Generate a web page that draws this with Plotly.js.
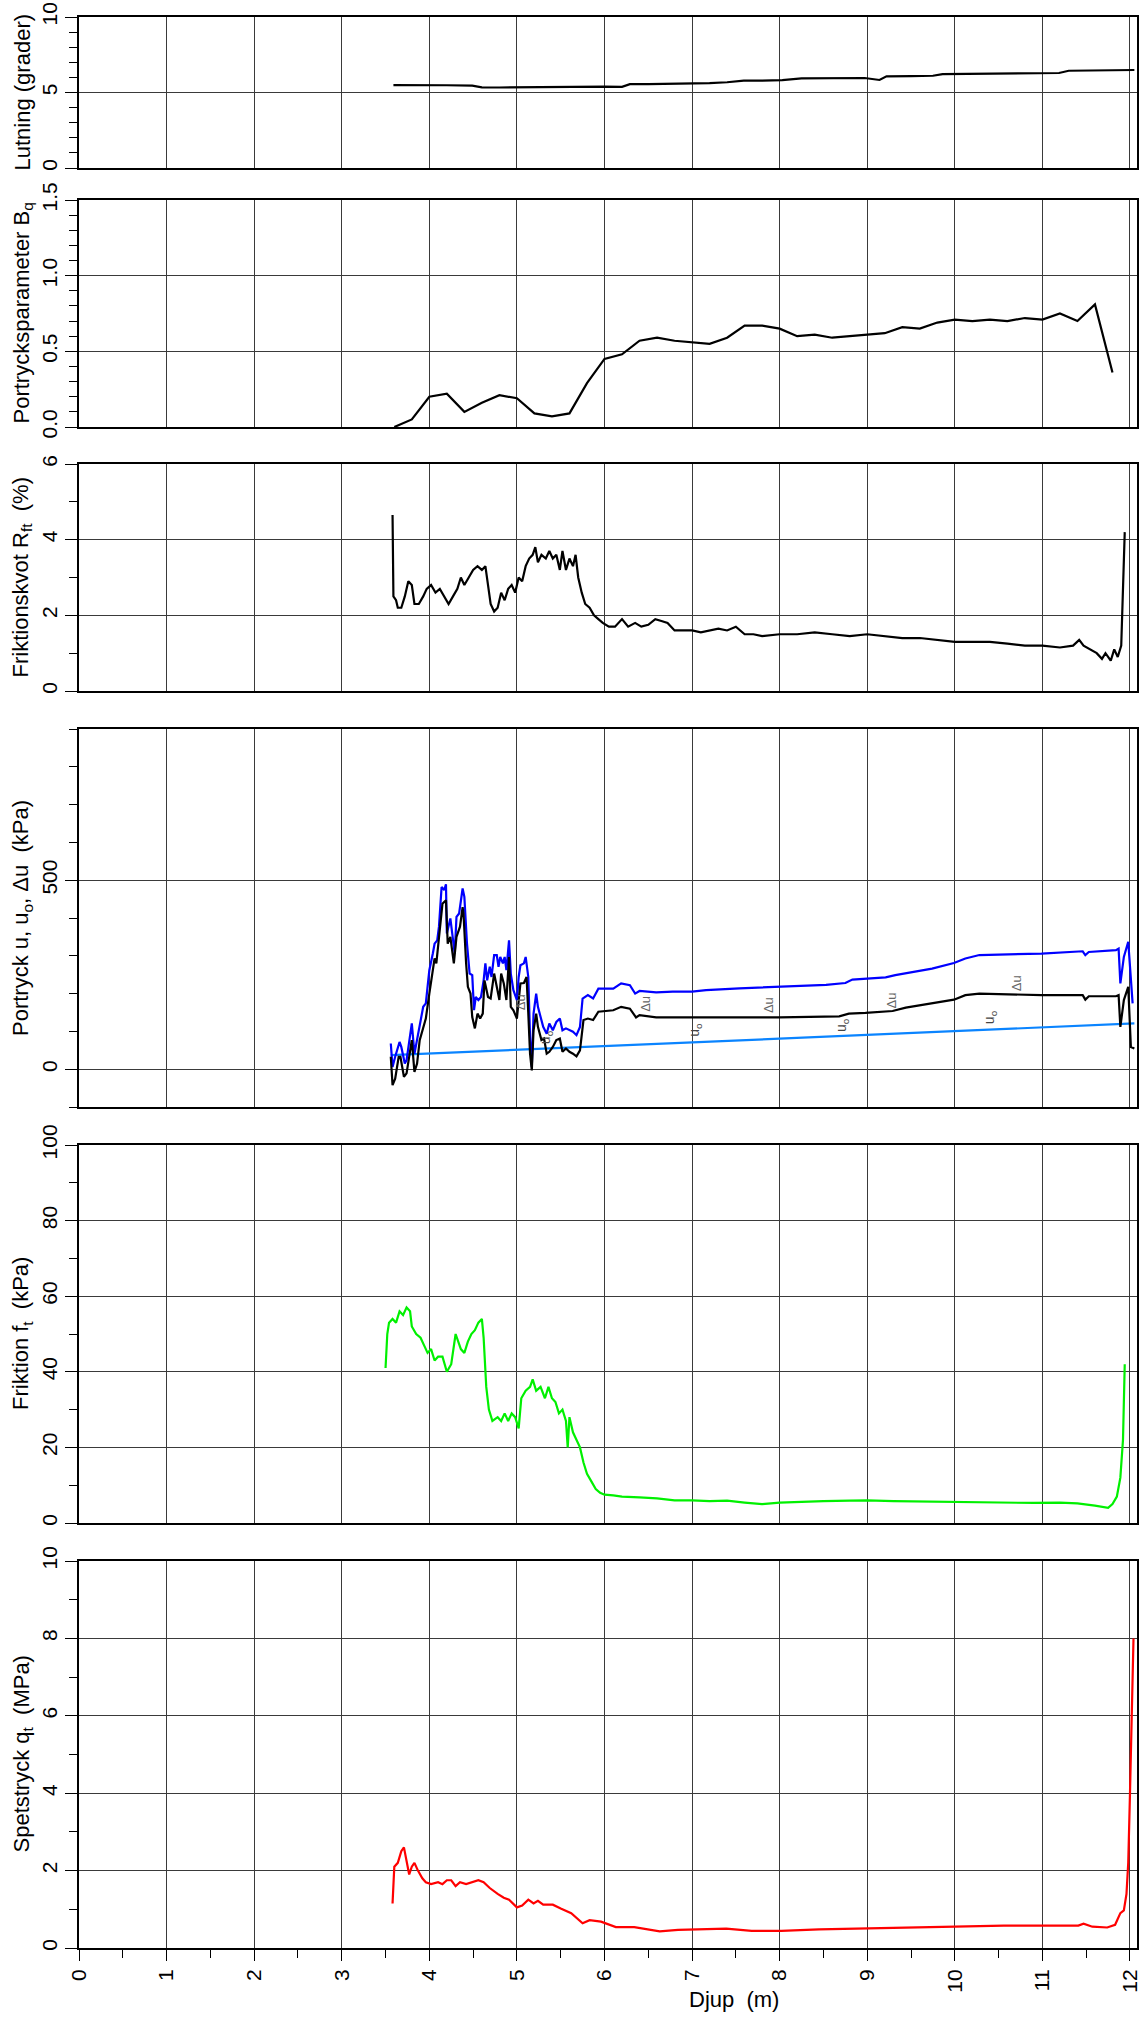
<!DOCTYPE html>
<html>
<head>
<meta charset="utf-8">
<script src="https://cdn.plot.ly/plotly-3.0.1.min.js"></script>
<style>html,body{margin:0;padding:0;background:#fff}</style>
</head>
<body>
<div id="chart" style="width:1140px;height:2020px"></div>
<script>
// ---------- DATA ----------
const xTicks = [0,1,2,3,4,5,6,7,8,9,10,11,12];

const lutDepth = [3.59,3.8,4.0,4.2,4.49,4.6,4.8,5.0,5.3,5.54,5.8,6.0,6.2,6.29,6.5,6.8,7.0,7.2,7.4,7.59,7.8,8.03,8.25,8.5,8.75,8.97,9.14,9.22,9.5,9.75,9.86,10.1,10.4,10.7,11.0,11.19,11.3,11.6,11.8,12.05];
const lutVal   = [5.49,5.5,5.49,5.48,5.45,5.34,5.33,5.34,5.35,5.4,5.4,5.39,5.37,5.55,5.56,5.57,5.58,5.62,5.68,5.78,5.79,5.82,5.93,5.94,5.95,5.96,5.83,6.07,6.09,6.11,6.22,6.23,6.25,6.27,6.28,6.29,6.44,6.46,6.47,6.49];

const bqDepth = [3.6,3.8,4.0,4.2,4.4,4.6,4.8,5.0,5.2,5.4,5.6,5.8,6.0,6.2,6.4,6.6,6.8,7.0,7.2,7.4,7.6,7.8,8.0,8.2,8.4,8.6,8.8,9.0,9.2,9.4,9.6,9.8,10.0,10.2,10.4,10.6,10.8,11.0,11.2,11.4,11.6,11.8];
const bqVal   = [0.0,0.05,0.2,0.22,0.1,0.16,0.21,0.19,0.09,0.07,0.09,0.29,0.45,0.48,0.57,0.59,0.57,0.56,0.55,0.59,0.67,0.67,0.65,0.6,0.61,0.59,0.6,0.61,0.62,0.66,0.65,0.69,0.71,0.7,0.71,0.7,0.72,0.71,0.75,0.7,0.81,0.36];

const rfDepth = [3.58,3.59,3.62,3.64,3.68,3.72,3.76,3.8,3.83,3.88,3.93,3.97,4.02,4.07,4.12,4.17,4.22,4.27,4.32,4.36,4.4,4.45,4.5,4.55,4.6,4.64,4.67,4.7,4.74,4.78,4.82,4.86,4.9,4.94,4.98,5.02,5.06,5.1,5.14,5.18,5.21,5.24,5.28,5.33,5.37,5.41,5.45,5.49,5.52,5.56,5.6,5.64,5.67,5.7,5.74,5.78,5.83,5.88,5.93,5.98,6.05,6.12,6.2,6.27,6.35,6.42,6.5,6.58,6.65,6.72,6.8,6.9,7.0,7.1,7.2,7.3,7.4,7.5,7.6,7.7,7.8,8.0,8.2,8.4,8.6,8.8,9.0,9.2,9.4,9.6,9.8,10.0,10.2,10.4,10.6,10.8,11.0,11.2,11.35,11.42,11.47,11.55,11.62,11.68,11.72,11.78,11.82,11.86,11.9,11.94];
const rfVal   = [4.65,2.5,2.4,2.2,2.2,2.5,2.9,2.8,2.3,2.3,2.5,2.7,2.8,2.6,2.7,2.5,2.3,2.5,2.7,3.0,2.8,3.0,3.2,3.3,3.2,3.3,2.8,2.3,2.1,2.2,2.6,2.4,2.7,2.8,2.6,3.0,2.9,3.3,3.5,3.6,3.8,3.4,3.6,3.5,3.7,3.5,3.6,3.2,3.7,3.2,3.5,3.3,3.6,3.0,2.6,2.3,2.2,2.0,1.9,1.8,1.7,1.7,1.9,1.7,1.8,1.7,1.75,1.9,1.85,1.8,1.6,1.6,1.6,1.55,1.6,1.65,1.6,1.7,1.5,1.5,1.45,1.5,1.5,1.55,1.5,1.45,1.5,1.45,1.4,1.4,1.35,1.3,1.3,1.3,1.25,1.2,1.2,1.15,1.2,1.35,1.2,1.1,1.0,0.85,1.0,0.8,1.1,0.9,1.2,4.2];

const uDepth = [3.56,3.58,3.61,3.66,3.68,3.72,3.74,3.77,3.8,3.83,3.86,3.89,3.93,3.96,4.0,4.04,4.06,4.09,4.11,4.14,4.17,4.19,4.2,4.24,4.27,4.29,4.31,4.34,4.38,4.4,4.43,4.46,4.49,4.51,4.53,4.56,4.59,4.62,4.64,4.66,4.69,4.71,4.74,4.77,4.79,4.81,4.84,4.86,4.88,4.91,4.93,4.96,5.0,5.02,5.04,5.08,5.1,5.13,5.15,5.17,5.19,5.22,5.24,5.26,5.3,5.34,5.37,5.41,5.45,5.49,5.52,5.56,5.6,5.64,5.68,5.72,5.75,5.81,5.87,5.93,6.0,6.1,6.19,6.29,6.35,6.4,6.59,6.78,7.0,7.16,7.54,8.0,8.53,8.75,8.83,9.21,9.32,9.74,9.99,10.12,10.28,10.99,11.46,11.49,11.53,11.84,11.87,11.89,11.93,11.98,12.03];
const uVal   = [68,6,33,72,59,15,24,77,121,41,77,121,165,174,262,306,332,341,377,482,474,489,359,399,341,306,403,412,478,456,332,253,249,156,191,183,191,235,280,235,271,244,302,302,271,297,280,297,262,341,253,209,183,244,275,280,297,244,86,6,147,200,165,147,112,94,121,103,125,134,103,108,103,99,90,112,187,196,187,213,213,213,227,222,200,207,203,205,205,209,214,218,223,228,237,243,249,266,281,293,302,306,312,302,310,315,319,227,297,337,174];

const duDepth = [3.56,3.58,3.61,3.65,3.67,3.71,3.74,3.78,3.8,3.83,3.86,3.89,3.93,3.96,4.0,4.04,4.06,4.08,4.11,4.15,4.19,4.21,4.24,4.26,4.28,4.31,4.35,4.38,4.39,4.42,4.44,4.47,4.49,4.52,4.55,4.58,4.61,4.63,4.67,4.7,4.74,4.77,4.8,4.82,4.85,4.88,4.91,4.93,4.96,5.0,5.02,5.04,5.08,5.11,5.13,5.15,5.17,5.19,5.22,5.24,5.28,5.31,5.34,5.37,5.41,5.45,5.49,5.52,5.56,5.6,5.64,5.68,5.72,5.76,5.81,5.87,5.93,6.0,6.1,6.19,6.29,6.36,6.4,6.59,7.0,7.54,8.0,8.68,8.79,8.98,9.29,9.44,9.74,9.99,10.12,10.28,10.99,11.46,11.49,11.53,11.84,11.87,11.89,11.93,11.98,12.01,12.05];
const duVal   = [33,-42,-25,33,33,-20,-11,41,77,-7,15,77,112,134,200,271,293,280,341,438,447,332,350,306,280,350,377,429,412,280,218,200,138,108,147,134,147,235,191,187,253,218,183,253,227,183,297,165,156,134,183,227,228,244,147,41,-3,103,147,112,77,81,41,46,59,77,81,46,55,46,41,34,50,130,134,130,152,154,156,165,160,137,143,137,137,138,137,140,147,149,154,163,174,184,196,200,196,196,184,193,193,196,112,183,218,59,55];

const u0Depth = [3.56,12.05];
const u0Val   = [37,121];

const duLabelDepth = [5.05,6.47,7.88,9.28,10.7];
const duLabelVal   = [178,172,170,181,228];
const u0LabelDepth = [5.34,7.04,8.72,10.41];
const u0LabelVal   = [84,103,116,137];

const ftDepth = [3.5,3.52,3.54,3.58,3.62,3.66,3.7,3.74,3.78,3.8,3.85,3.9,3.94,3.98,4.02,4.06,4.1,4.15,4.2,4.25,4.3,4.33,4.36,4.4,4.44,4.48,4.52,4.56,4.6,4.62,4.65,4.68,4.72,4.78,4.82,4.86,4.9,4.94,4.98,5.02,5.05,5.1,5.15,5.18,5.22,5.27,5.32,5.36,5.4,5.44,5.48,5.52,5.56,5.58,5.6,5.64,5.68,5.72,5.76,5.8,5.85,5.9,5.95,6.0,6.1,6.2,6.4,6.6,6.8,7.0,7.2,7.4,7.6,7.8,8.0,8.2,8.5,8.8,9.0,9.3,9.6,10.0,10.3,10.6,10.9,11.2,11.4,11.6,11.75,11.8,11.85,11.89,11.92,11.94];
const ftVal   = [41,50,53,54,53,56,55,57,56,52,50,49,47,45,46,43,44,44,40,42,50,48,46,45,48,50,51,53,54,49,36,30,27,28,27,29,27,29,28,25,33,35,36,38,35,36,33,36,33,32,29,30,27,20,28,24,22,20,16,13,11,9,8,7.5,7.3,7.0,6.8,6.5,6.0,6.0,5.8,5.9,5.4,5.0,5.4,5.6,5.8,5.9,6.0,5.8,5.7,5.6,5.6,5.5,5.3,5.4,5.2,4.6,4.0,5.0,7.0,12,22,42];

const qtDepth = [3.58,3.6,3.64,3.68,3.71,3.74,3.77,3.8,3.83,3.87,3.92,3.96,4.02,4.1,4.15,4.2,4.25,4.3,4.35,4.42,4.5,4.56,4.62,4.69,4.78,4.85,4.91,5.0,5.06,5.13,5.19,5.24,5.3,5.41,5.5,5.62,5.75,5.83,5.96,6.13,6.34,6.46,6.63,6.84,7.1,7.39,7.68,8.02,8.45,9.0,9.5,10.0,10.56,11.0,11.41,11.47,11.57,11.74,11.83,11.89,11.93,11.96,11.98,12.0,12.02,12.04];
const qtVal   = [1.15,2.1,2.2,2.5,2.6,2.2,1.9,2.1,2.2,2.0,1.8,1.7,1.65,1.7,1.65,1.75,1.75,1.6,1.7,1.65,1.7,1.75,1.7,1.55,1.4,1.3,1.25,1.05,1.1,1.25,1.15,1.22,1.12,1.12,1.02,0.9,0.64,0.72,0.68,0.54,0.54,0.49,0.43,0.47,0.48,0.5,0.44,0.44,0.48,0.5,0.52,0.55,0.58,0.58,0.58,0.63,0.55,0.53,0.6,0.9,0.97,1.4,2.2,4.0,6.0,8.0];

const yTitles = [
  'Lutning (grader)',
  'Portrycksparameter B<sub>q</sub>',
  'Friktionskvot R<sub>ft</sub>\u00a0 (%)',
  'Portryck u, u<sub>o</sub>, \u0394u\u00a0 (kPa)',
  'Friktion f<sub>t</sub>\u00a0 (kPa)',
  'Spetstryck q<sub>t</sub>\u00a0 (MPa)'
];
const xTitle = 'Djup\u00a0 (m)';

// ---------- LAYOUT ----------
const W = 1140, H = 2020, ML = 79, MR = 3, MT = 17, MB = 72;
const PH = H - MT - MB, PW = W - ML - MR;
function dom(t, b) { return [(H - MB - b) / PH, (H - MB - t) / PH]; }

const panels = [
  {t: 17,   b: 168,  range: [0, 10],     dtick: 5,   minor: 1,   fmt: ''},
  {t: 200,  b: 427,  range: [0, 1.5],    dtick: 0.5, minor: 0.1, fmt: '.1f'},
  {t: 464,  b: 691,  range: [0, 6],      dtick: 2,   minor: 1,   fmt: ''},
  {t: 729,  b: 1107, range: [-100, 900], dtick: 500, minor: 100, fmt: ''},
  {t: 1145, b: 1523, range: [0, 100],    dtick: 20,  minor: 10,  fmt: ''},
  {t: 1561, b: 1948, range: [0, 10],     dtick: 2,   minor: 1,   fmt: ''}
];

const FONT = 'Liberation Sans, Arial, sans-serif';
const GRID = '#3a3a3a';
const layout = {
  width: W, height: H,
  margin: {l: ML, r: MR, t: MT, b: MB, pad: 0},
  paper_bgcolor: '#fff', plot_bgcolor: '#fff',
  showlegend: false,
  font: {family: FONT, size: 21, color: '#000'},
  annotations: []
};

panels.forEach((p, i) => {
  const n = i + 1, s = n === 1 ? '' : String(n);
  const last = n === panels.length;
  layout['xaxis' + s] = {
    domain: [0, 1], anchor: 'y' + s,
    range: [0, 12.08], autorange: false,
    tickmode: 'array', tickvals: xTicks, ticktext: xTicks.map(String),
    showgrid: true, gridcolor: GRID, gridwidth: 1,
    zeroline: false,
    showline: true, mirror: true, linecolor: '#000', linewidth: 2,
    showticklabels: last, tickangle: -90, ticklabeloverflow: 'allow',
    ticks: last ? 'outside' : '', ticklen: 11, tickwidth: 1, tickcolor: '#000',
    tickfont: {size: 21, family: FONT},
    minor: last ? {dtick: 0.5, tick0: 0, ticks: 'outside', ticklen: 8, tickwidth: 1, tickcolor: '#000', showgrid: false} : {ticks: '', showgrid: false}
  };
  if (n > 1) layout['xaxis' + s].matches = 'x';
  layout['yaxis' + s] = {
    domain: dom(p.t, p.b), anchor: 'x' + s,
    range: p.range, autorange: false,
    tick0: 0, dtick: p.dtick, tickformat: p.fmt,
    showgrid: true, gridcolor: GRID, gridwidth: 1,
    zeroline: false,
    showline: true, mirror: true, linecolor: '#000', linewidth: 2,
    ticks: 'outside', ticklen: 12, tickwidth: 1, tickcolor: '#000',
    tickangle: -90, ticklabeloverflow: 'allow', tickfont: {size: 21, family: FONT},
    minor: {dtick: p.minor, tick0: 0, ticks: 'outside', ticklen: 8, tickwidth: 1, tickcolor: '#000', showgrid: false}
  };
  layout.annotations.push({
    xref: 'paper', yref: 'paper',
    x: (22 - ML) / PW, y: (dom(p.t, p.b)[0] + dom(p.t, p.b)[1]) / 2,
    xanchor: 'center', yanchor: 'middle',
    text: yTitles[i], textangle: -90, showarrow: false,
    font: {size: 22, family: FONT, color: '#000'}
  });
});

layout.annotations.push({
  xref: 'paper', yref: 'paper',
  x: (734 - ML) / PW, y: (H - MB - 1999) / PH,
  xanchor: 'center', yanchor: 'middle',
  text: xTitle, showarrow: false,
  font: {size: 22, family: FONT, color: '#000'}
});

duLabelDepth.forEach((d, k) => layout.annotations.push({
  xref: 'x4', yref: 'y4', x: d, y: duLabelVal[k], text: '\u0394u', textangle: -90,
  showarrow: false, font: {size: 13, family: FONT, color: '#666'}
}));
u0LabelDepth.forEach((d, k) => layout.annotations.push({
  xref: 'x4', yref: 'y4', x: d, y: u0LabelVal[k], text: 'u<sub>o</sub>', textangle: -90,
  showarrow: false, font: {size: 14, family: FONT, color: '#444'}
}));

// ---------- TRACES ----------
function line(x, y, ax, color) {
  return {type: 'scatter', mode: 'lines', x: x, y: y, xaxis: 'x' + ax, yaxis: 'y' + ax,
          line: {color: color, width: 2.2}, hoverinfo: 'skip'};
}
const data = [
  line(lutDepth, lutVal, '', '#000'),
  line(bqDepth, bqVal, '2', '#000'),
  line(rfDepth, rfVal, '3', '#000'),
  line(u0Depth, u0Val, '4', '#0a84ff'),
  line(uDepth, uVal, '4', '#0000ff'),
  line(duDepth, duVal, '4', '#000'),
  line(ftDepth, ftVal, '5', '#00f000'),
  line(qtDepth, qtVal, '6', '#ff0000')
];

Plotly.newPlot('chart', data, layout, {staticPlot: true, displayModeBar: false});
</script>
</body>
</html>
